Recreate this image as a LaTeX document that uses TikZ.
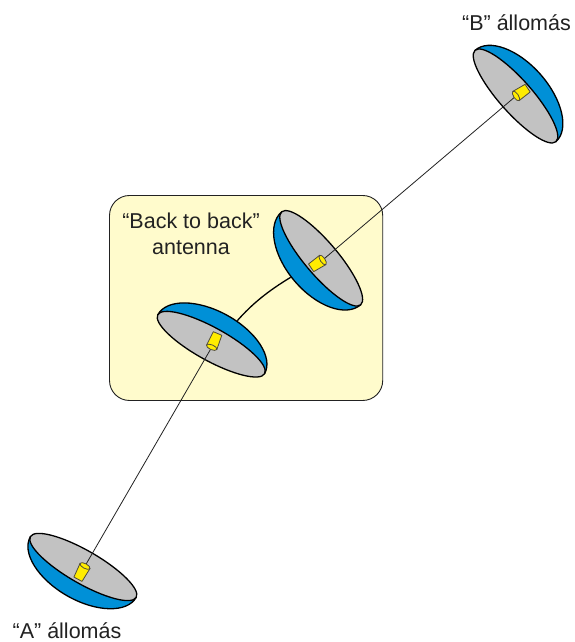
\documentclass[tikz,border=0pt]{standalone}
\usepackage{fontspec}
\setmainfont{Liberation Sans}
\definecolor{dishblue}{HTML}{0090D7}
\definecolor{dishgrey}{HTML}{C2C2C2}
\definecolor{feedyel}{HTML}{FFEC00}
\definecolor{panel}{HTML}{FFFBCC}
\definecolor{ink}{HTML}{222222}
\tikzset{
  dishline/.style={draw=black,line width=1.3pt,line join=round},
  feedline/.style={draw=black!80!yellow,line width=0.8pt,line join=round},
  link/.style={draw=ink,line width=0.8pt},
  lbl/.style={text=ink,font=\fontsize{21.5}{26}\selectfont,align=center,inner sep=0pt}
}
% #1 centre, #2 rotation, #3 half length, #4 rim half width, #5 bulge, #6 side (+1/-1)
\newcommand{\dishshape}[6]{%
  \begin{scope}[shift={#1},rotate=#2]
    \fill[dishblue,dishline] (-#3,0) arc[start angle=180,end angle=0,x radius=#3,y radius=#6*#5] -- cycle;
    \fill[dishgrey,dishline] (0,0) ellipse[x radius=#3,y radius=#4];
  \end{scope}}
% #1 cap centre, #2 direction angle to base, #3 length
\newcommand{\feedshape}[3]{%
  \begin{scope}[shift={#1},rotate=#2]
    \fill[feedyel,feedline] (0,-5.6) -- (#3,-4.6) -- (#3,4.6) -- (0,5.6) -- cycle;
    \fill[feedyel,feedline] (0,0) ellipse[x radius=2.4,y radius=5.6];
  \end{scope}}
\begin{document}
\begin{tikzpicture}[x=1pt,y=1pt]
\useasboundingbox (0,0) rectangle (574,642);
\fill[white] (0,0) rectangle (574,642);
\draw[fill=panel,draw=ink,line width=0.9pt,rounded corners=20pt] (109.5,241.5) rectangle (382.7,446.5);
\node[lbl] (backlbl) at (191,408.5) {“Back to back”\\antenna};
\node[lbl,anchor=center] (blbl) at (516.5,619) {“B” állomás};
\node[lbl,anchor=center] (albl) at (67,11.5) {“A” állomás};
% feed points
\coordinate (fa) at (85,76);
\coordinate (fd) at (211.7,294.7);
\coordinate (fc) at (322.7,382);
\coordinate (fb) at (516,546);
\coordinate (cd) at (237.3,321.3);
\coordinate (cc) at (290.7,364.7);
\dishshape{(83.3,75)}{-29.9}{61}{16.5}{33}{-1}
\dishshape{(211.2,297.8)}{-28.9}{61}{16.5}{33}{1}
\dishshape{(321.2,383.7)}{-49.7}{61}{16.5}{35}{-1}
\dishshape{(515.5,546)}{-48.5}{61}{16.5}{33}{1}
\draw[link] (fa) -- (fd);
\draw[link] (fc) -- (fb);
\draw[draw=black,line width=1.3pt] (cd) .. controls (252,338) and (268,351) .. (cc);
\feedshape{(fa)}{-118}{15}
\feedshape{(fd)}{67}{15}
\feedshape{(fc)}{-146}{14}
\feedshape{(fb)}{34}{14}
\end{tikzpicture}
\end{document}
